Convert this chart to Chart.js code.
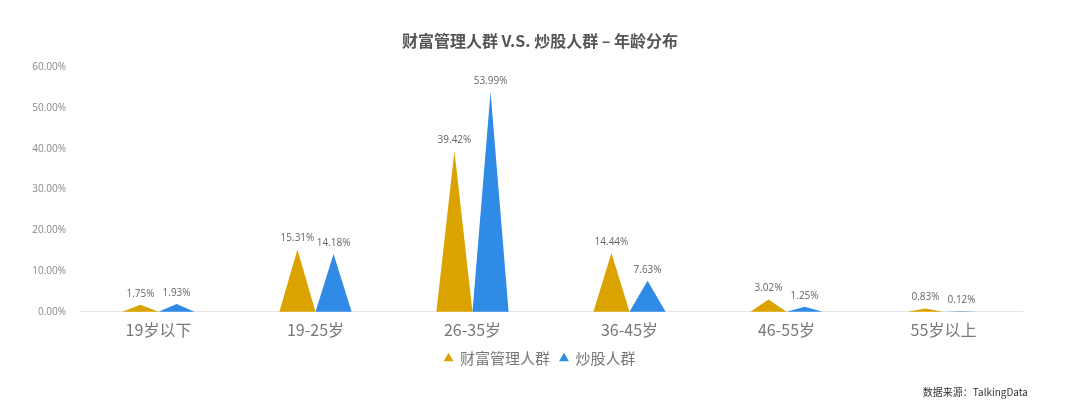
<!DOCTYPE html>
<html>
<head>
<meta charset="utf-8">
<script src="https://cdn.jsdelivr.net/npm/chart.js@4/dist/chart.umd.min.js"></script>
<style>
  html, body { margin: 0; padding: 0; background: #fff; }
  #wrap { width: 1080px; height: 402px; position: relative; }
</style>
</head>
<body>
<div id="wrap"><canvas id="ageChart"></canvas></div>
<script>
// data
const ageGroups = ["19岁以下", "19-25岁", "26-35岁", "36-45岁", "46-55岁", "55岁以上"];
const wealthMgmt = [1.75, 15.31, 39.42, 14.44, 3.02, 0.83];
const stockTraders = [1.93, 14.18, 53.99, 7.63, 1.25, 0.12];
const seriesNames = ["财富管理人群", "炒股人群"];
const yTicks = [0, 10, 20, 30, 40, 50, 60];

const orange = "#dba300";
const blue = "#2f8be6";

// draw each bar as a triangle (peak at value, base on the axis)
const triangleBars = {
  id: "triangleBars",
  beforeDatasetDraw(chart, args) {
    const ctx = chart.ctx;
    const meta = args.meta;
    const color = chart.data.datasets[args.index].backgroundColor;
    ctx.save();
    ctx.fillStyle = color;
    meta.data.forEach(function (bar) {
      const p = bar.getProps(["x", "y", "base", "width"], true);
      ctx.beginPath();
      ctx.moveTo(p.x - p.width / 2, p.base);
      ctx.lineTo(p.x, p.y);
      ctx.lineTo(p.x + p.width / 2, p.base);
      ctx.closePath();
      ctx.fill();
    });
    ctx.restore();
    return false;
  },
  afterDatasetsDraw(chart) {
    const ctx = chart.ctx;
    ctx.save();
    ctx.font = "10px 'Open Sans', sans-serif";
    ctx.fillStyle = "#666";
    ctx.textAlign = "center";
    ctx.textBaseline = "bottom";
    chart.data.datasets.forEach(function (ds, i) {
      chart.getDatasetMeta(i).data.forEach(function (bar, j) {
        ctx.fillText(ds.data[j].toFixed(2) + "%", bar.x, bar.y - 6);
      });
    });
    // source note
    ctx.font = "10px 'Noto Sans CJK SC', sans-serif";
    ctx.fillStyle = "#333";
    ctx.textAlign = "right";
    ctx.textBaseline = "middle";
    ctx.fillText("数据来源：TalkingData", 1028, 392);
    ctx.restore();
  }
};

new Chart(document.getElementById("ageChart"), {
  type: "bar",
  data: {
    labels: ageGroups,
    datasets: [
      { label: seriesNames[0], data: wealthMgmt, backgroundColor: orange },
      { label: seriesNames[1], data: stockTraders, backgroundColor: blue }
    ]
  },
  options: {
    responsive: true,
    maintainAspectRatio: false,
    animation: false,
    categoryPercentage: 0.46,
    barPercentage: 1.0,
    layout: { padding: { left: 20, right: 20, top: 8, bottom: 26 } },
    plugins: {
      title: {
        display: true,
        text: "财富管理人群 V.S. 炒股人群 – 年龄分布",
        color: "#555",
        font: { size: 16, weight: "bold", family: "'Noto Sans CJK SC', sans-serif" },
        padding: { top: 23, bottom: 17 }
      },
      legend: {
        position: "bottom",
        labels: {
          usePointStyle: true,
          pointStyle: "triangle",
          boxWidth: 8,
          boxHeight: 8,
          padding: 10,
          color: "#777",
          font: { size: 15, lineHeight: 1, family: "'Noto Sans CJK SC', sans-serif" }
        }
      },
      tooltip: { enabled: false }
    },
    scales: {
      x: {
        grid: { display: false },
        border: { color: "#e6e6e6" },
        ticks: {
          color: "#777",
          padding: 1,
          font: { size: 16, family: "'Noto Sans CJK SC', sans-serif" }
        }
      },
      y: {
        min: yTicks[0],
        max: yTicks[yTicks.length - 1],
        afterFit(scale) { scale.width = 60; },
        grid: { display: false },
        border: { display: false },
        afterBuildTicks(scale) { scale.ticks = yTicks.map(v => ({ value: v })); },
        ticks: {
          color: "#888",
          padding: 6,
          font: { size: 10, family: "'Open Sans', sans-serif" },
          callback: v => v.toFixed(2) + "%"
        }
      },
      // empty axis on the right, only to keep space so the legend and title stay centred
      yRight: {
        position: "right",
        afterFit(scale) { scale.width = 38; },
        grid: { display: false },
        border: { display: false },
        ticks: { display: false }
      }
    }
  },
  plugins: [triangleBars]
});
</script>
</body>
</html>
